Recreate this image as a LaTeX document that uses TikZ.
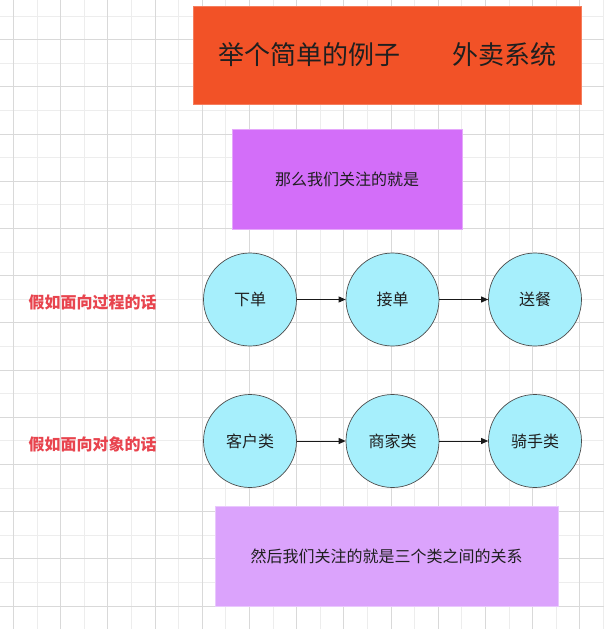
\documentclass[tikz,border=0pt]{standalone}
\usepackage{fontspec}
\setmainfont{Noto Sans CJK SC}
\usepackage{tikz}
\usetikzlibrary{positioning, arrows.meta, backgrounds}
\definecolor{gitterhell}{HTML}{EDEDED}
\definecolor{gitterdunkel}{HTML}{D9D9D9}
\definecolor{titelorange}{HTML}{F25227}
\definecolor{hinweislila}{HTML}{D36EF9}
\definecolor{hinweisflieder}{HTML}{DBA3FC}
\definecolor{kreiscyan}{HTML}{A6EFFC}
\definecolor{seitenrot}{HTML}{E8444E}
\tikzset{
    kasten/.style    = {draw, align=center, inner sep=0pt, text=black!88,
                        font=\fontsize{16}{19}\selectfont},
    titelbox/.style  = {kasten, fill=titelorange, draw=titelorange!75!white,
                        minimum width=388pt, minimum height=98pt,
                        font=\fontsize{26}{30}\selectfont},
    hinweis/.style   = {kasten, minimum height=100pt},
    schrittkreis/.style = {circle, draw=black!70, fill=kreiscyan, line width=0.7pt,
                        minimum size=93pt, inner sep=0pt, text=black!88,
                        font=\fontsize{16}{19}\selectfont},
    link/.style      = {-{Triangle[length=7pt, width=6pt]}, line width=0.9pt, black!90},
    seite/.style     = {text=seitenrot, font=\fontsize{16}{19}\selectfont\bfseries}
}
\begin{document}
\begin{tikzpicture}[x=1pt, y=-1pt]
        \useasboundingbox (0,0) rectangle (604,629);
        % --- Gitter ---
        \fill[white] (0,0) rectangle (604,629);
        \foreach \gx in {13.3,36.9,...,604} \draw[gitterhell, line width=0.8pt] (\gx,0) -- (\gx,629);
        \foreach \gy in {16,39.6,...,629} \draw[gitterhell, line width=0.8pt] (0,\gy) -- (604,\gy);
        \foreach \gx in {13.3,60.5,...,604} \draw[gitterdunkel, line width=0.8pt] (\gx,0) -- (\gx,629);
        \foreach \gy in {39.6,86.8,...,629} \draw[gitterdunkel, line width=0.8pt] (0,\gy) -- (604,\gy);

        % --- Kopf ---
        \node[titelbox] (titel) at (387,55) {举个简单的例子\quad\quad 外卖系统};
        \node[hinweis, fill=hinweislila, draw=hinweislila!60!white, minimum width=230pt]
            (fokus) at (347,179) {那么我们关注的就是};

        % --- Prozess ---
        \node[schrittkreis] (xiadan)   at (250,299.5)   {下单};
        \node[schrittkreis] (jiedan)   at (392.5,299.5) {接单};
        \node[schrittkreis] (songcan)  at (535,299.5)   {送餐};
        \node[seite] (prozess) at (92.5,302) {假如面向过程的话};

        \draw[link] (xiadan) -- (jiedan);
        \draw[link] (jiedan) -- (songcan);

        % --- Objekte ---
        \node[schrittkreis] (kunde)    at (250,441)   {客户类};
        \node[schrittkreis] (haendler) at (392.5,441) {商家类};
        \node[schrittkreis] (fahrer)   at (535,441)   {骑手类};
        \node[seite] (objekt) at (92.5,444) {假如面向对象的话};

        \draw[link] (kunde) -- (haendler);
        \draw[link] (haendler) -- (fahrer);

        \node[hinweis, fill=hinweisflieder, draw=hinweisflieder!60!white, minimum width=343pt]
            (beziehung) at (386.5,556) {然后我们关注的就是三个类之间的关系};
    \end{tikzpicture}
\end{document}
